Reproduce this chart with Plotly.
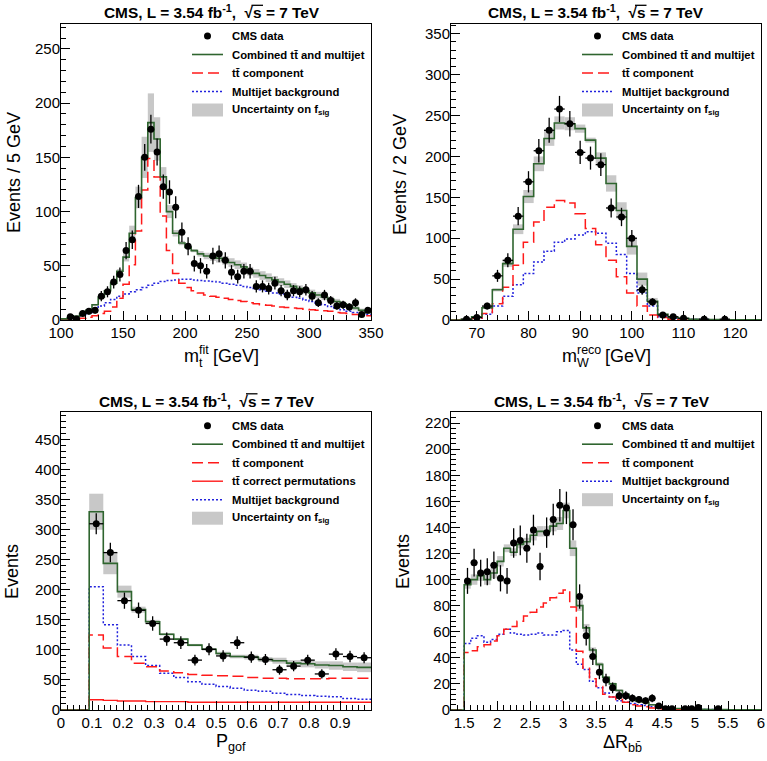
import numpy as np
import plotly.graph_objects as go

# ---------------- data ----------------
# Panel 1: m_t^fit, 5 GeV bins from 100 to 350
mt_lo, mt_hi, mt_w = 100.0, 350.0, 5.0
mt_data = [None, 3, 1, 6, 8, 9, 22, 26, 35, 42, 64, 74, 114, 150, 176, 155, 123, 118, 104, 81,
           68, 52, 50, 45, 59, 61, 55, 44, 40, 45, 45, 31, 31, 29, 34, 27, 23, 27, 26, 28,
           22, 16, 23, 18, 13, 14, 12, 16, 5, 9]
mt_comb = [1, 2, 3.5, 6, 9, 14, 21, 27, 34, 45, 58, 80, 113, 150, 182, 167, 132, 100, 80, 71,
           67, 64, 61, 59, 58, 57, 55, 53, 51, 49, 45, 43, 41, 39, 37, 35, 33, 31, 29, 27,
           25, 23, 21, 19, 17, 15, 13, 11, 9, 7]
mt_tt = [0, 0.3, 0.8, 1.5, 2.5, 4, 6, 8, 12, 20, 33, 51, 82, 120, 149, 132, 96, 64, 43, 34,
         30, 27, 25, 23, 22, 21, 20, 19, 18, 17, 16, 15, 14, 13.5, 13, 12, 11.5, 11, 10.5, 10,
         9.5, 9, 8.5, 8, 7, 6.5, 6, 5, 4.5, 4]
mt_bkg = [1, 2, 3, 5, 7, 10, 13, 16, 19, 22, 24, 26, 28, 30, 32, 34, 35.5, 36.5, 37, 37.5,
          37.5, 37, 36.5, 36, 35.5, 35, 34, 33, 32, 31, 30, 29, 28, 26.5, 25, 24, 22.5, 21, 20, 18.5,
          17, 15.5, 14, 12.5, 11, 9.5, 8, 7, 6, 5]
mt_unc = [0.2, 0.3, 0.4, 0.5, 0.6, 0.8, 1, 1, 1, 2, 4, 7, 10, 19, 27, 20, 9, 6, 3, 2,
          1, 1.5, 2.5, 3, 3.5, 4, 4, 4, 4, 4, 4, 4, 4, 4, 3.5, 3.5, 3.5, 3, 3, 3,
          3, 3, 2.5, 2.5, 2.5, 2, 2, 2, 1.5, 1.5]

# Panel 2: m_W^reco, 2 GeV bins from 65 to 125
mw_lo, mw_hi, mw_w = 65.0, 125.0, 2.0
mw_data = [None, 1, 3, 17, 54, 73, 127, 169, 207, 232, 258, 240, 205, 198, 190, 137, 126, 100, 37, 22,
           6, 4, 2, None, 1, None, 1, None, None, None]
mw_comb = [0, 1, 4, 15, 37, 69, 111, 151, 191, 222, 241, 240, 234, 220, 198, 167, 134, 90, 50, 23,
           7, 3, 2, 1, 0.6, 0.4, 0.3, 0.2, 0.1, 0.1]
mw_tt = [0, 0.5, 2, 8, 20, 40, 67, 95, 120, 138, 146, 143, 130, 112, 92, 73, 53, 33, 17, 6,
         3, 1, 0.5, 0.3, 0.1, 0.1, 0.1, 0.1, 0, 0]
mw_bkg = [0, 0.5, 2, 7, 17, 29, 43, 57, 71, 84, 95, 99, 104, 108, 106, 94, 80, 57, 33, 17,
          4, 2, 1.5, 0.7, 0.5, 0.3, 0.2, 0.1, 0.1, 0.1]
mw_unc = [0, 0, 0.5, 1, 2, 4, 6, 8, 9, 9, 8, 8, 5, 3, 7, 10, 10, 10, 8, 4,
          1, 0.5, 0.3, 0.3, 0.2, 0.2, 0.1, 0.1, 0.1, 0.1]

# Panel 3: P_gof, 22 bins from 0 to 1
pg_lo, pg_hi, pg_n = 0.0, 1.0, 22
pg_data = [None, None, 310, 262, 182, 166, 144, 118, 112, 83, 101, 90, 112, 88, 84, 67, 73, 83, 60, 93, 89, 87]
pg_comb = [0, 0, 330, 244, 197, 167, 147, 126, 118, 108, 101, 94, 89, 88, 84, 82, 78, 77, 75, 74, 72, 71]
pg_tt = [0, 0, 125, 103, 89, 78, 72, 65, 62, 59, 58, 57, 56, 54, 53, 53, 52, 52, 52, 53, 53, 53]
pg_ttok = [0, 0, 17, 16, 15, 15, 14, 14, 14, 13, 13, 13, 13, 13, 13, 13, 13, 13, 13, 13, 13, 13]
pg_bkg = [0, 0, 205, 142, 108, 89, 74, 61, 54, 47, 43, 39, 36, 33, 31, 28, 26, 24, 23, 22, 19, 18]
pg_unc = [0, 0, 30, 18, 10, 5, 3, 2, 2, 2, 2, 3, 3, 4, 4, 5, 5, 6, 6, 7, 7, 8]

# Panel 4: Delta R_bb, 0.1 bins from 1.3 to 6.0
dr_lo, dr_hi, dr_w = 1.3, 6.0, 0.1
dr_data = [None, None, 99, 113, 105, 106, 111, 101, 99, 128, 130, 124, 138, 110, 136, 146, 157, 155, 142, 87,
           57, 41, 29, 23, 17, 11, 11, 9, 8, 7, 9, 3, 1, 1, None, 1, 1, 2, None, None,
           1, None, None, None, None, None, None]
dr_comb = [0, 0, 96, 100, 103, 100, 105, 114, 124, 121, 127, 129, 134, 137, 137, 141, 143, 153, 124, 80,
           63, 46, 35, 25, 20, 15, 12, 9, 7, 6, 4, 3, 2, 1.5, 1.2, 1, 0.8, 0.6, 0.5, 0.4,
           0.3, 0.3, 0.2, 0.2, 0.1, 0.1, 0.1]
dr_tt = [0, 0, 44, 45.5, 48.5, 50, 53, 57, 62, 64, 68, 72, 75, 79, 82, 86, 89.5, 92, 79, 45,
         32, 24, 18, 12, 10, 8, 6, 4, 3, 2.5, 1.5, 1, 0.7, 0.5, 0.3, 0.3, 0.2, 0.2, 0.1, 0.1,
         0.1, 0.1, 0, 0, 0, 0, 0]
dr_bkg = [0, 0, 51, 55, 57, 52, 54, 58, 62, 59, 58, 57.5, 58, 59, 57.5, 57.5, 60, 61, 46, 35,
          31, 22, 17, 13, 10, 7, 6, 5, 4, 3.5, 2.5, 2, 1.3, 1, 0.8, 0.7, 0.6, 0.4, 0.3, 0.3,
          0.2, 0.2, 0.1, 0.1, 0.1, 0.1, 0.1]
dr_unc = [0, 0, 3, 4, 4, 4, 4, 4, 3, 3, 3, 3, 4, 4, 4, 4, 5, 6, 6, 4,
          3, 2, 1.5, 1, 1, 1, 0.5, 0.5, 0.5, 0.3, 0.3, 0.2, 0.2, 0.1, 0.1, 0.1, 0.1, 0.1, 0.1, 0.1,
          0.1, 0.1, 0.1, 0.1, 0.1, 0.1, 0.1]

TITLE = "<b>CMS, L = 3.54 fb<sup>-1</sup>,  \u221as = 7 TeV</b>"
TT = "t" + "t\u0304"

# ---------------- helpers ----------------
W, H = 767, 761
FONT = "Liberation Sans, Arial, Helvetica, sans-serif"
GREEN = "#2f652f"
RED = "#ff1a1a"
BLUE = "#2222dd"
GRAY = "#c8c8c8"
DASH = "11px,5px"
DOT = "2px,2px"


def px(x):
    return x / W


def py(y):
    return 1 - y / H


fig = go.Figure()


def add_panel(k, edges, data, comb, tt, bkg, unc, ttok=None):
    edges = np.asarray(edges, dtype=float)
    centers = 0.5 * (edges[:-1] + edges[1:])
    widths = edges[1:] - edges[:-1]
    xa = "x" if k == 1 else f"x{k}"
    ya = "y" if k == 1 else f"y{k}"
    comb_a = np.asarray(comb, dtype=float)
    unc_a = np.asarray(unc, dtype=float)
    fig.add_trace(go.Bar(x=centers, y=2 * unc_a, base=comb_a - unc_a, width=widths,
                         marker=dict(color=GRAY, line=dict(width=0)),
                         xaxis=xa, yaxis=ya, showlegend=False, hoverinfo="skip"))

    def step(vals, color, dash, width):
        v = list(vals) + [vals[-1]]
        fig.add_trace(go.Scatter(x=edges, y=v, mode="lines", line_shape="hv",
                                 line=dict(color=color, dash=dash, width=width),
                                 xaxis=xa, yaxis=ya, showlegend=False, hoverinfo="skip"))

    if ttok is not None:
        step(ttok, RED, "solid", 1.4)
    step(bkg, BLUE, DOT, 1.5)
    step(tt, RED, DASH, 1.5)
    step(comb, GREEN, "solid", 1.6)

    d = np.array([np.nan if v is None else v for v in data], dtype=float)
    fig.add_trace(go.Scatter(x=centers, y=d, mode="markers",
                             marker=dict(color="black", size=7),
                             error_y=dict(type="data", array=np.sqrt(np.nan_to_num(d)), width=0,
                                          thickness=1.3, color="black"),
                             error_x=dict(type="data", array=widths / 2, width=0,
                                          thickness=1.3, color="black"),
                             xaxis=xa, yaxis=ya, showlegend=False, hoverinfo="skip"))


add_panel(1, np.linspace(mt_lo, mt_hi, len(mt_comb) + 1), mt_data, mt_comb, mt_tt, mt_bkg, mt_unc)
add_panel(2, np.linspace(mw_lo, mw_hi, len(mw_comb) + 1), mw_data, mw_comb, mw_tt, mw_bkg, mw_unc)
add_panel(3, np.linspace(pg_lo, pg_hi, pg_n + 1), pg_data, pg_comb, pg_tt, pg_bkg, pg_unc, ttok=pg_ttok)
add_panel(4, np.linspace(dr_lo, dr_hi, len(dr_comb) + 1), dr_data, dr_comb, dr_tt, dr_bkg, dr_unc)

# ---------------- axes ----------------
col_x = {1: (61, 371), 2: (451, 761), 3: (61, 371), 4: (451, 761)}
row_y = {1: (24, 320), 2: (24, 320), 3: (412, 710), 4: (412, 710)}
xranges = {1: [100, 350], 2: [65, 125], 3: [0, 0.9995], 4: [1.3, 6.0]}
yranges = {1: [0, 273], 2: [0, 362], 3: [0, 496], 4: [0, 228.5]}
xdt = {1: (50, 10), 2: (10, 2), 3: (0.1, 0.02), 4: (0.5, 0.1)}
ydt = {1: (50, 10), 2: (50, 10), 3: (50, 10), 4: (20, 4)}
x0 = {1: 100, 2: 70, 3: 0, 4: 1.5}

layout_axes = {}
for k in range(1, 5):
    xl, xr = col_x[k]
    yt, yb = row_y[k]
    common = dict(showline=True, mirror=True, linecolor="black", linewidth=1,
                  ticks="inside", ticklen=9, tickwidth=1, tickcolor="black",
                  showgrid=False, zeroline=False, fixedrange=True, automargin=False,
                  tickfont=dict(family=FONT, size=15, color="black"))
    xname = "xaxis" if k == 1 else f"xaxis{k}"
    yname = "yaxis" if k == 1 else f"yaxis{k}"
    layout_axes[xname] = dict(common, domain=[px(xl), px(xr)], range=xranges[k],
                              anchor="y" if k == 1 else f"y{k}",
                              tickmode="linear", tick0=x0[k], dtick=xdt[k][0],
                              ticklabelstandoff=-1,
                              minor=dict(ticks="inside", ticklen=5, tickcolor="black",
                                         tickmode="linear", tick0=x0[k], dtick=xdt[k][1]))
    layout_axes[yname] = dict(common, domain=[py(yb), py(yt)], range=yranges[k],
                              anchor="x" if k == 1 else f"x{k}",
                              tickmode="linear", tick0=0, dtick=ydt[k][0],
                              ticklabelstandoff=-3,
                              minor=dict(ticks="inside", ticklen=5, tickcolor="black",
                                         tickmode="linear", tick0=0, dtick=ydt[k][1]))

annotations = []
shapes = []


def ann(text, x, y, size, angle=0, xanchor="center"):
    annotations.append(dict(text=text, x=px(x), y=py(y), xref="paper", yref="paper",
                            showarrow=False, xanchor=xanchor, yanchor="middle", textangle=angle,
                            font=dict(family=FONT, size=size, color="black")))


# titles
TF = 15.4
title_pos = [(212, 11.5), (595.5, 11.5), (206.5, 400), (601.5, 400)]
for tx, ty in title_pos:
    ann(TITLE, tx, ty, TF)
    # overline of the square root over "s"
    shapes.append(dict(type="line", xref="paper", yref="paper",
                       x0=px(tx + 39.5), x1=px(tx + 51), y0=py(ty - 6.2), y1=py(ty - 6.2),
                       line=dict(color="black", width=1.3)))

# axis titles (stacked super/subscripts built from pieces)
AX = 18
SM = 12.5
ann("m", 182, 356, AX, xanchor="left")
ann("fit", 197, 350, SM, xanchor="left")
ann("t", 197, 363, SM, xanchor="left")
ann("[GeV]", 211, 356, AX, xanchor="left")

ann("m", 560, 356, AX, xanchor="left")
ann("reco", 575, 350, SM, xanchor="left")
ann("W", 575, 363, SM, xanchor="left")
ann("[GeV]", 603, 356, AX, xanchor="left")

ann("P<sub>gof</sub>", 231, 742, AX)
ann("\u0394R<sub>b" + "b\u0304" + "</sub>", 622, 743, AX)
ann("Events / 5 GeV", 14, 173, AX, angle=-90)
ann("Events / 2 GeV", 400, 175, AX, angle=-90)
ann("Events", 12, 572, AX, angle=-90)
ann("Events", 403, 562, AX, angle=-90)

LEGF = 11.3


# legends
def legend(xs, ys, entries):
    sx0, sx1 = xs, xs + 31
    for (kind, label), y in zip(entries, ys):
        if kind == "data":
            r = 3.5
            cx = (sx0 + sx1) / 2
            shapes.append(dict(type="circle", xref="paper", yref="paper",
                               x0=px(cx - r), x1=px(cx + r), y0=py(y + r), y1=py(y - r),
                               fillcolor="black", line=dict(color="black", width=0)))
        elif kind == "band":
            shapes.append(dict(type="rect", xref="paper", yref="paper",
                               x0=px(sx0), x1=px(sx1), y0=py(y + 6.5), y1=py(y - 6.5),
                               fillcolor=GRAY, line=dict(width=0)))
        else:
            color, dash, w = kind
            shapes.append(dict(type="line", xref="paper", yref="paper",
                               x0=px(sx0), x1=px(sx1), y0=py(y), y1=py(y),
                               line=dict(color=color, dash=dash, width=w)))
        ann("<b>" + label + "</b>", sx1 + 7, y, LEGF, xanchor="left")


base_entries = [("data", "CMS data"),
                ((GREEN, "solid", 1.6), "Combined " + TT + " and multijet"),
                ((RED, DASH, 1.5), TT + " component"),
                ((BLUE, DOT, 1.5), "Multijet background"),
                ("band", "Uncertainty on f<sub>sig</sub>")]
p3_entries = [("data", "CMS data"),
              ((GREEN, "solid", 1.6), "Combined " + TT + " and multijet"),
              ((RED, DASH, 1.5), TT + " component"),
              ((RED, "solid", 1.4), TT + " correct permutations"),
              ((BLUE, DOT, 1.5), "Multijet background"),
              ("band", "Uncertainty on f<sub>sig</sub>")]

top_ys = [36, 54.5, 73, 91.5, 110]
bot_ys5 = [425.7, 444.2, 462.7, 481.2, 499.7]
bot_ys6 = [425.7, 444.2, 462.7, 481.2, 499.7, 518.2]
legend(192, top_ys, base_entries)
legend(582, top_ys, base_entries)
legend(192, bot_ys6, p3_entries)
legend(582, bot_ys5, base_entries)

fig.update_layout(width=W, height=H,
                  margin=dict(l=0, r=0, t=0, b=0, pad=0, autoexpand=False),
                  paper_bgcolor="white", plot_bgcolor="white",
                  barmode="overlay", showlegend=False,
                  annotations=annotations, shapes=shapes,
                  font=dict(family=FONT, color="black"),
                  **layout_axes)

fig.write_html("out.html", config={"displayModeBar": False},
               post_script="document.body.style.margin='0px';document.body.style.overflow='hidden';")
